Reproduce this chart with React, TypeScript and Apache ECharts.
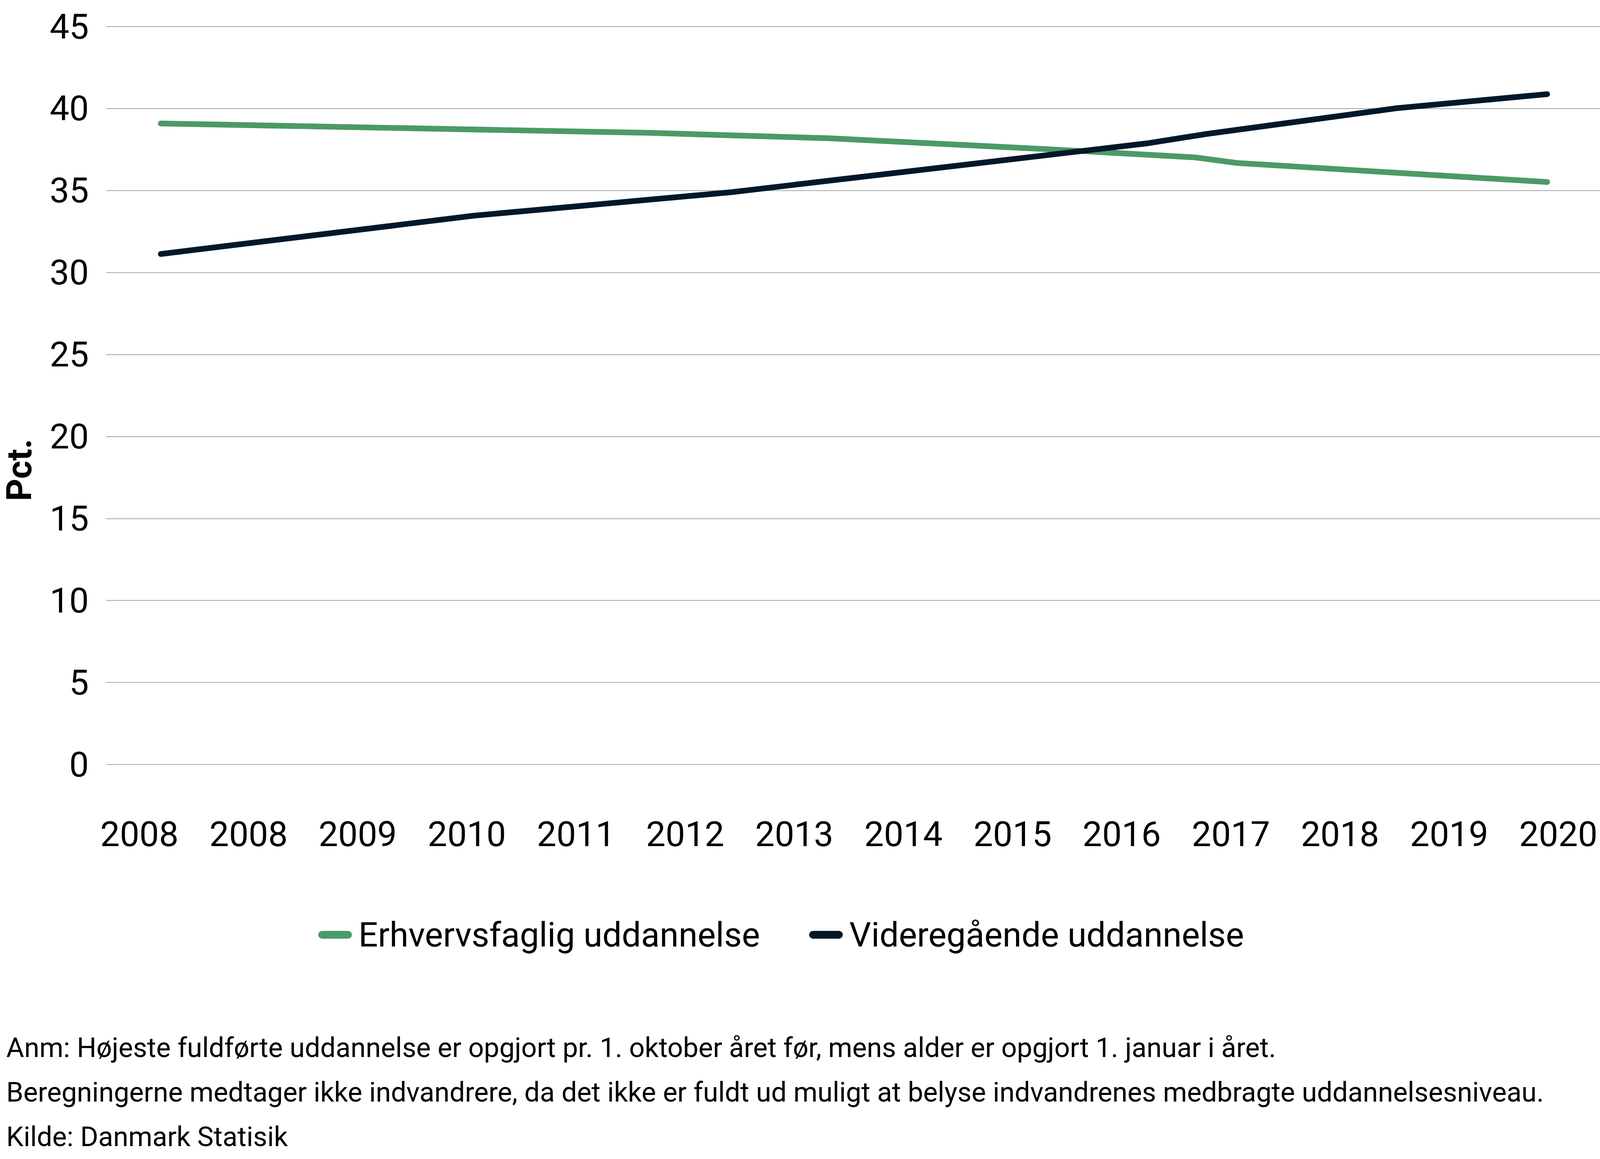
import React, { useEffect, useRef } from "react";
import * as echarts from "echarts";

// ---- data ----
const xTickLabels = ["2008", "2008", "2009", "2010", "2011", "2012", "2013", "2014", "2015", "2016", "2017", "2018", "2019", "2020"];
const xTickPositions = [0, 1, 2, 3, 4, 5, 6, 7, 8, 9, 10, 11, 12, 13];
const xMin = -0.306;
const xMax = 13.382;

const seriesNames = ["Erhvervsfaglig uddannelse", "Videregående uddannelse"];
const erhvX = [0.196, 4.662, 6.314, 8.325, 9.675, 10.058, 12.898];
const erhvY = [39.09, 38.52, 38.19, 37.52, 37.02, 36.68, 35.52];
const videX = [0.196, 3.068, 5.424, 9.236, 9.775, 11.518, 12.898];
const videY = [31.13, 33.47, 34.9, 37.88, 38.45, 40.02, 40.88];

const yMin = 0;
const yMax = 45;
const yInterval = 5;

const yAxisTitle = "Pct.";
const footnotes = [
  "Anm: Højeste fuldførte uddannelse er opgjort pr. 1. oktober året før, mens alder er opgjort 1. januar i året.",
  "Beregningerne medtager ikke indvandrere, da det ikke er fuldt ud muligt at belyse indvandrenes medbragte uddannelsesniveau.",
  "Kilde: Danmark Statisik",
];

const GREEN = "#4B9A67";
const NAVY = "#021829";
const FONT = "Roboto, 'Noto Sans', sans-serif";
const REF_W = 5600;
const REF_H = 2967;

export default function App() {
  const ref = useRef<HTMLDivElement>(null);

  useEffect(() => {
    const el = ref.current;
    if (!el) return;
    document.body.style.margin = "0";
    const W = window.innerWidth || REF_W;
    const H = window.innerHeight || REF_H;
    el.style.width = W + "px";
    el.style.height = H + "px";
    const sx = W / REF_W;
    const sy = H / REF_H;
    const sf = Math.min(sx, sy);
    const X = (v: number) => v * sx;
    const Y = (v: number) => v * sy;
    const F = (v: number) => v * sf;

    const chart = echarts.init(el, undefined, { renderer: "svg", width: W, height: H });
    const pair = (xs: number[], ys: number[]) => xs.map((x, i) => [x, ys[i]]);
    const iw = X(118);
    const ih = Y(20);
    const r = ih / 2;

    chart.setOption({
      animation: false,
      backgroundColor: "#ffffff",
      textStyle: { fontFamily: FONT, color: "#000" },
      grid: { left: X(371), right: 0, top: Y(68), bottom: Y(1010), containLabel: false },
      xAxis: {
        type: "value",
        min: xMin,
        max: xMax,
        axisLine: { show: false },
        axisTick: { show: false },
        splitLine: { show: false },
        axisLabel: {
          customValues: xTickPositions,
          formatter: (v: number) => xTickLabels[Math.round(v)] ?? "",
          fontSize: F(122),
          fontFamily: FONT,
          color: "#000",
          margin: Y(134),
        },
      },
      yAxis: {
        type: "value",
        min: yMin,
        max: yMax,
        interval: yInterval,
        axisLine: { show: false },
        axisTick: { show: false },
        splitLine: { show: true, lineStyle: { color: "#A6A6A6", width: Math.max(1, F(2.5)) } },
        axisLabel: { fontSize: F(122), fontFamily: FONT, color: "#000", margin: X(60) },
      },
      legend: {
        show: true,
        left: X(1107),
        top: Y(2344),
        itemWidth: iw,
        itemHeight: ih,
        itemGap: X(172),
        icon: `path://M${r},0L${iw - r},0A${r},${r},0,0,1,${iw - r},${ih}L${r},${ih}A${r},${r},0,0,1,${r},0Z`,
        textStyle: { fontSize: F(120), fontFamily: FONT, color: "#000", padding: [0, 0, 0, X(16)] },
        data: seriesNames,
      },
      series: [
        {
          name: seriesNames[0],
          type: "line",
          data: pair(erhvX, erhvY),
          showSymbol: false,
          symbol: "none",
          color: GREEN,
          lineStyle: { color: GREEN, width: F(20), cap: "round", join: "round" },
        },
        {
          name: seriesNames[1],
          type: "line",
          data: pair(videX, videY),
          showSymbol: false,
          symbol: "none",
          color: NAVY,
          lineStyle: { color: NAVY, width: F(20), cap: "round", join: "round" },
        },
      ],
      graphic: [
        {
          type: "text",
          x: X(68),
          y: Y(1203),
          rotation: Math.PI / 2,
          style: {
            text: yAxisTitle,
            fontSize: F(122),
            fontWeight: "bold",
            fontFamily: FONT,
            fill: "#000",
            align: "center",
            verticalAlign: "middle",
          },
        },
        ...footnotes.map((t, i) => ({
          type: "text",
          x: X(22),
          y: Y(2682 + i * 114),
          style: {
            text: t,
            fontSize: F(96),
            fontFamily: FONT,
            fill: "#000",
            align: "left",
            verticalAlign: "middle",
          },
        })),
      ],
    });

    return () => chart.dispose();
  }, []);

  return (
    <div
      ref={ref}
      style={{ position: "fixed", left: 0, top: 0, width: REF_W, height: REF_H, background: "#fff" }}
    />
  );
}
